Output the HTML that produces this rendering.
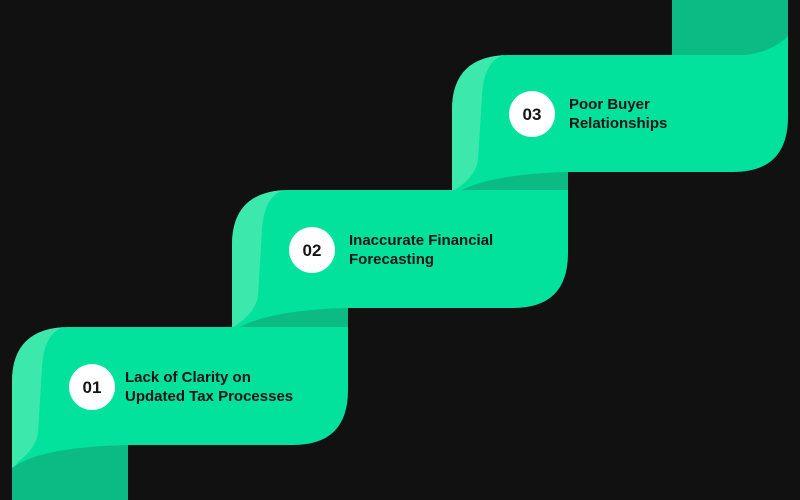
<!DOCTYPE html>
<html><head><style>
html,body{margin:0;padding:0;background:#111111;}
svg{display:block}
text{font-family:"Liberation Sans",Arial,sans-serif;font-weight:600;fill:#151515;}
</style></head><body>
<svg width="800" height="500" viewBox="0 0 800 500">
<rect width="800" height="500" fill="#111111"/>
<rect x="672" y="0" width="116" height="60" fill="#0cbb84"/>
<path d="M672,55 L745,55 Q772,52 788,36 L788,60 L672,60 Z" fill="#02e29c"/>

<path d="M452,192 L452,110 Q452,55 510,55 L788,55 L788,117 Q788,172 733,172 L568,172 L568,192 Z" fill="#02e29c"/>
<path d="M452,192 L452,110 Q452,55 510,55 L505,55 Q484,60 482,95 L478,160 Q476,175 458,188 Z" fill="#3de8ad"/>
<path d="M458,192 Q490,174 568,172 L568,192 Z" fill="#0cbb84"/>

<path d="M232,328 L232,245 Q232,190 290,190 L568,190 L568,253 Q568,308 513,308 L348,308 L348,328 Z" fill="#02e29c"/>
<path d="M232,328 L232,245 Q232,190 290,190 L285,190 Q264,195 262,230 L258,296 Q256,311 238,324 Z" fill="#3de8ad"/>
<path d="M238,328 Q270,310 348,308 L348,328 Z" fill="#0cbb84"/>

<path d="M12,500 L12,382 Q12,327 70,327 L348,327 L348,390 Q348,445 293,445 L128,445 L128,500 Z" fill="#02e29c"/>
<path d="M12,470 L12,382 Q12,327 70,327 L65,327 Q44,332 42,367 L38,433 Q36,448 18,462 Z" fill="#3de8ad"/>
<path d="M12,500 L12,468 Q40,447 128,445 L128,500 Z" fill="#0cbb84"/>

<circle cx="92" cy="387" r="23" fill="#fff"/>
<circle cx="312" cy="250" r="23" fill="#fff"/>
<circle cx="532" cy="114" r="23" fill="#fff"/>
<text x="92" y="393" font-size="17" text-anchor="middle">01</text>
<text x="312" y="256" font-size="17" text-anchor="middle">02</text>
<text x="532" y="120" font-size="17" text-anchor="middle">03</text>
<text x="125" y="382" font-size="15">Lack of Clarity on</text>
<text x="125" y="401" font-size="15">Updated Tax Processes</text>
<text x="349" y="245" font-size="15">Inaccurate Financial</text>
<text x="349" y="264" font-size="15">Forecasting</text>
<text x="569" y="109" font-size="15">Poor Buyer</text>
<text x="569" y="128" font-size="15">Relationships</text>
</svg>
</body></html>
